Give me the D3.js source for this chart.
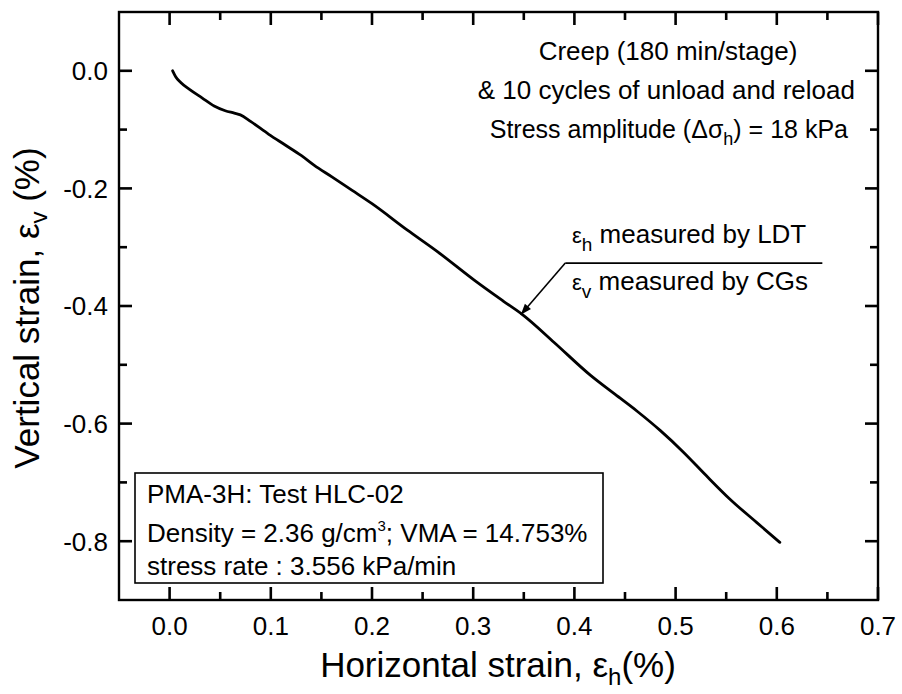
<!DOCTYPE html>
<html>
<head>
<meta charset="utf-8">
<script src="https://cdn.jsdelivr.net/npm/d3@7/dist/d3.min.js"></script>
<style>
  html, body { margin: 0; padding: 0; background: #fff; }
  svg { display: block; font-family: "Liberation Sans", Arial, Helvetica, sans-serif; }
</style>
</head>
<body>
<svg id="chart" width="902" height="694"></svg>
<script>
// ---- data ----
const strainH = [0.003, 0.006, 0.011, 0.020, 0.032, 0.044, 0.055, 0.064, 0.070, 0.080, 0.098, 0.115, 0.130, 0.143, 0.160, 0.180, 0.200, 0.235, 0.265, 0.301, 0.330, 0.349, 0.380, 0.416, 0.440, 0.462, 0.485, 0.508, 0.530, 0.554, 0.580, 0.603];
const strainV = [0.000, -0.010, -0.020, -0.032, -0.046, -0.060, -0.068, -0.072, -0.075, -0.086, -0.108, -0.127, -0.144, -0.161, -0.180, -0.203, -0.226, -0.271, -0.308, -0.356, -0.392, -0.415, -0.462, -0.518, -0.550, -0.579, -0.612, -0.649, -0.688, -0.729, -0.768, -0.802];
const xMajorTicks = [0.0, 0.1, 0.2, 0.3, 0.4, 0.5, 0.6, 0.7];
const xTickLabels = ["0.0", "0.1", "0.2", "0.3", "0.4", "0.5", "0.6", "0.7"];
const xMinorTicks = [0.05, 0.15, 0.25, 0.35, 0.45, 0.55, 0.65];
const yMajorTicks = [0.0, -0.2, -0.4, -0.6, -0.8];
const yTickLabels = ["0.0", "-0.2", "-0.4", "-0.6", "-0.8"];
const yMinorTicks = [-0.1, -0.3, -0.5, -0.7];

// ---- layout ----
const svg = d3.select("#chart");
const L = 119, R = 878, T = 12, B = 600;
const x = d3.scaleLinear().domain([-0.05, 0.7]).range([L, R]);
const y = d3.scaleLinear().domain([-0.9, 0.1]).range([B, T]);
const FS = 26, MAJ = 13, MIN = 8;

// frame
svg.append("rect").attr("x", L).attr("y", T).attr("width", R - L).attr("height", B - T)
  .attr("fill", "none").attr("stroke", "#000").attr("stroke-width", 2.4);

// ticks (inward, all four sides)
const tk = svg.append("g");
function hTick(px, len, top) {
  tk.append("rect").attr("x", px - 1.3).attr("width", 2.6).attr("height", len)
    .attr("y", top ? T : B - len).attr("fill", "#000");
}
function vTick(py, len, left) {
  tk.append("rect").attr("y", py - 1.3).attr("height", 2.6).attr("width", len)
    .attr("x", left ? L : R - len).attr("fill", "#000");
}
xMajorTicks.forEach(v => { hTick(x(v), MAJ, false); hTick(x(v), MAJ, true); });
xMinorTicks.forEach(v => { hTick(x(v), MIN, false); hTick(x(v), MIN, true); });
yMajorTicks.forEach(v => { vTick(y(v), MAJ, true); vTick(y(v), MAJ, false); });
yMinorTicks.forEach(v => { vTick(y(v), MIN, true); vTick(y(v), MIN, false); });

// tick labels
svg.append("g").selectAll("text").data(xMajorTicks).enter().append("text")
  .attr("x", d => x(d)).attr("y", 635).attr("text-anchor", "middle")
  .attr("font-size", FS).text((d, i) => xTickLabels[i]);
svg.append("g").selectAll("text").data(yMajorTicks).enter().append("text")
  .attr("x", 108).attr("y", d => y(d)).attr("dy", "0.36em").attr("text-anchor", "end")
  .attr("font-size", FS).text((d, i) => yTickLabels[i]);

// ---- curve ----
const pts = strainH.map((v, i) => [v, strainV[i]]);
svg.append("path").datum(pts)
  .attr("fill", "none").attr("stroke", "#000").attr("stroke-width", 2.8)
  .attr("stroke-linejoin", "round").attr("stroke-linecap", "round")
  .attr("d", d3.line().curve(d3.curveMonotoneX).x(d => x(d[0])).y(d => y(d[1])));

// ---- axis titles ----
const xt = svg.append("text").attr("x", 498).attr("y", 677).attr("text-anchor", "middle")
  .attr("font-size", 35).attr("fill", "#000");
xt.append("tspan").text("Horizontal strain, ε");
xt.append("tspan").attr("font-size", 24).attr("dy", 8).text("h");
xt.append("tspan").attr("dy", -8).text("(%)");

const yt = svg.append("text").attr("transform", "translate(39,308) rotate(-90)")
  .attr("text-anchor", "middle").attr("font-size", 35).attr("fill", "#000");
yt.append("tspan").text("Vertical strain, ε");
yt.append("tspan").attr("font-size", 24).attr("dy", 8).text("v");
yt.append("tspan").attr("dy", -8).text(" (%)");

// ---- top-right annotation ----
svg.append("text").attr("x", 668).attr("y", 60).attr("text-anchor", "middle")
  .attr("font-size", FS).text("Creep (180 min/stage)");
svg.append("text").attr("x", 855).attr("y", 99).attr("text-anchor", "end")
  .attr("font-size", FS).text("& 10 cycles of unload and reload");
const a3 = svg.append("text").attr("x", 848).attr("y", 138).attr("text-anchor", "end")
  .attr("font-size", 25);
a3.append("tspan").text("Stress amplitude (Δσ");
a3.append("tspan").attr("font-size", 18).attr("dy", 7).text("h");
a3.append("tspan").attr("dy", -7).text(") = 18 kPa");

// ---- leader annotation ----
const lx0 = 0.391, ly0 = -0.327, lx1 = 0.645, tipX = 0.347, tipY = -0.415;
svg.append("line").attr("x1", x(lx0)).attr("y1", y(ly0)).attr("x2", x(lx1)).attr("y2", y(ly0))
  .attr("stroke", "#000").attr("stroke-width", 1.6);
svg.append("line").attr("x1", x(lx0)).attr("y1", y(ly0)).attr("x2", x(tipX)).attr("y2", y(tipY))
  .attr("stroke", "#000").attr("stroke-width", 1.6);
{
  const px = x(tipX), py = y(tipY);
  const ang = Math.atan2(y(ly0) - py, x(lx0) - px);
  const len = 11, w = 4;
  const bx = px + len * Math.cos(ang), by = py + len * Math.sin(ang);
  const nx = -Math.sin(ang) * w, ny = Math.cos(ang) * w;
  svg.append("path").attr("d", `M${px},${py}L${bx + nx},${by + ny}L${bx - nx},${by - ny}Z`).attr("fill", "#000");
}
const e1 = svg.append("text").attr("x", 572).attr("y", 243).attr("font-size", FS);
e1.append("tspan").attr("font-size", 22).text("ε");
e1.append("tspan").attr("font-size", 19).attr("dy", 8).text("h");
e1.append("tspan").attr("dy", -8).text(" measured by LDT");
const e2 = svg.append("text").attr("x", 572).attr("y", 290).attr("font-size", FS);
e2.append("tspan").attr("font-size", 22).text("ε");
e2.append("tspan").attr("font-size", 19).attr("dy", 8).text("v");
e2.append("tspan").attr("dy", -8).text(" measured by CGs");

// ---- info box ----
svg.append("rect").attr("x", 135).attr("y", 473).attr("width", 468).attr("height", 110)
  .attr("fill", "#fff").attr("stroke", "#000").attr("stroke-width", 1.6);
svg.append("text").attr("x", 147).attr("y", 503).attr("font-size", FS).text("PMA-3H: Test HLC-02");
const b2 = svg.append("text").attr("x", 147).attr("y", 542).attr("font-size", FS);
b2.append("tspan").text("Density = 2.36 g/cm");
b2.append("tspan").attr("font-size", 15).attr("dy", -11).text("3");
b2.append("tspan").attr("dy", 11).text("; VMA = 14.753%");
svg.append("text").attr("x", 147).attr("y", 575).attr("font-size", FS).text("stress rate : 3.556 kPa/min");
</script>
</body>
</html>
